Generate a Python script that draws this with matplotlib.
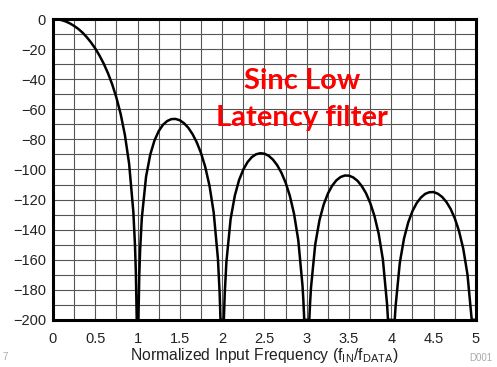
import matplotlib
matplotlib.use('Agg')
import matplotlib.pyplot as plt
from matplotlib.ticker import MultipleLocator

# normalized frequency (f_IN / f_DATA) and magnitude response (dB)
freq = [0.0, 0.05, 0.1, 0.15, 0.2, 0.25, 0.3, 0.35, 0.4, 0.45,
        0.5, 0.55, 0.6, 0.65, 0.7, 0.75, 0.8, 0.85, 0.9, 0.95,
        0.97, 0.98, 0.99, 1.0, 1.01, 1.02, 1.03, 1.05,
        1.1, 1.15, 1.2, 1.25, 1.3, 1.35, 1.4, 1.45, 1.5, 1.55,
        1.6, 1.65, 1.7, 1.75, 1.8, 1.85, 1.9, 1.95, 1.97, 1.98,
        2.0, 2.02, 2.03, 2.05,
        2.1, 2.15, 2.2, 2.25, 2.3, 2.35, 2.4, 2.45, 2.5, 2.55,
        2.6, 2.65, 2.7, 2.75, 2.8, 2.85, 2.9, 2.95, 2.96, 2.97,
        3.0, 3.03, 3.04, 3.05,
        3.1, 3.15, 3.2, 3.25, 3.3, 3.35, 3.4, 3.45, 3.5, 3.55,
        3.6, 3.65, 3.7, 3.75, 3.8, 3.85, 3.9, 3.95, 3.96,
        4.0, 4.04, 4.05,
        4.1, 4.15, 4.2, 4.25, 4.3, 4.35, 4.4, 4.45, 4.5, 4.55,
        4.6, 4.65, 4.7, 4.75, 4.8, 4.85, 4.9, 4.95, 5.0]

gain_db = [0.0, -0.2, -0.7, -1.6, -2.9, -4.6, -6.6, -9.1, -12.1, -15.6,
           -19.6, -24.3, -29.7, -36.0, -43.4, -52.3, -63.1, -77.0, -96.1, -128.1,
           -151.0, -169.0, -199.6, -200.0, -200.0, -170.8, -153.6, -132.4,
           -104.9, -90.1, -80.7, -74.5, -70.3, -67.8, -66.5, -66.4, -67.3, -69.3,
           -72.3, -76.5, -82.0, -89.1, -98.3, -110.7, -128.6, -159.3, -181.8, -199.6,
           -200.0, -200.0, -183.1, -161.5,
           -132.9, -117.3, -107.0, -100.0, -95.1, -91.8, -89.9, -89.2, -89.5, -90.9,
           -93.4, -97.1, -102.1, -108.7, -117.5, -129.5, -147.0, -177.3, -187.0, -199.6,
           -200.0, -200.0, -188.2, -178.7,
           -149.9, -133.8, -123.3, -116.0, -110.8, -107.2, -105.0, -104.0, -104.1, -105.3,
           -107.5, -111.0, -115.7, -122.2, -130.8, -142.6, -159.8, -189.9, -199.7,
           -200.0, -200.0, -191.0,
           -162.0, -145.8, -135.1, -127.6, -122.3, -118.6, -116.2, -115.1, -115.0, -116.1,
           -118.2, -121.5, -126.1, -132.4, -140.9, -152.6, -169.7, -199.7, -200.0]

x_ticks = [0, 0.5, 1, 1.5, 2, 2.5, 3, 3.5, 4, 4.5, 5]
x_tick_labels = ['0', '0.5', '1', '1.5', '2', '2.5', '3', '3.5', '4', '4.5', '5']
y_ticks = list(range(0, -201, -20))

plt.rcParams['font.family'] = ['Liberation Sans', 'DejaVu Sans']
txt_col = '#222222'

fig = plt.figure(figsize=(4.97, 3.67), dpi=100, facecolor='white')
ax = fig.add_axes([0.1066, 0.1281, 0.851, 0.8201])

ax.plot(freq, gain_db, color='black', linewidth=1.8, solid_joinstyle='round', zorder=3)

ax.set_xlim(0, 5)
ax.set_ylim(-200, 0)
ax.set_xticks(x_ticks)
ax.set_xticklabels(x_tick_labels)
ax.set_yticks(y_ticks)
ax.xaxis.set_minor_locator(MultipleLocator(0.25))
ax.yaxis.set_minor_locator(MultipleLocator(10))
ax.grid(True, which='both', color='#555555', linewidth=0.8)
ax.set_axisbelow(True)
ax.tick_params(which='both', length=0, colors=txt_col, labelsize=10.5)
ax.tick_params(axis='x', pad=9)
ax.tick_params(axis='y', pad=5)

for sp in ax.spines.values():
    sp.set_linewidth(2.2)
    sp.set_edgecolor('black')
    sp.set_zorder(4)

ax.set_xlabel(r'Normalized Input Frequency (f$_{\mathregular{IN}}$/f$_{\mathregular{DATA}}$)',
              color=txt_col, fontsize=11.3, labelpad=0)

ax.text(0.589, 0.732, 'Sinc Low\nLatency filter', transform=ax.transAxes,
        ha='center', va='center', color='#ff0000', fontsize=21,
        fontweight='bold', family=['Lato', 'DejaVu Sans'], linespacing=1.5)

fig.text(0.006, 0.02, '7', color='#aaaaaa', fontsize=7)
fig.text(0.945, 0.015, 'D001', color='#aaaaaa', fontsize=7)

plt.savefig('out.png', dpi=100, facecolor='white')
plt.close()
